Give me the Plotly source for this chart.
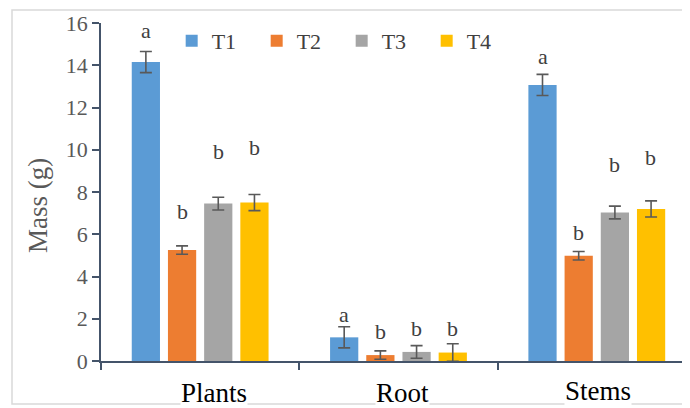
import plotly.graph_objects as go

categories = ["Plants", "Root", "Stems"]
series_names = ["T1", "T2", "T3", "T4"]
colors = ["#5B9BD5", "#ED7D31", "#A5A5A5", "#FFC000"]

t1_values = [14.15, 1.12, 13.07]
t2_values = [5.25, 0.28, 4.98]
t3_values = [7.45, 0.43, 7.03]
t4_values = [7.5, 0.40, 7.2]

t1_err = [0.5, 0.5, 0.5]
t2_err = [0.2, 0.2, 0.2]
t3_err = [0.3, 0.3, 0.3]
t4_err = [0.38, 0.42, 0.38]

t1_letters = ["a", "a", "a"]
t2_letters = ["b", "b", "b"]
t3_letters = ["b", "b", "b"]
t4_letters = ["b", "b", "b"]

t1_letter_y = [15.65, 2.2, 14.4]
t2_letter_y = [7.1, 1.42, 6.1]
t3_letter_y = [9.9, 1.56, 9.3]
t4_letter_y = [10.1, 1.56, 9.65]

y_tick_vals = [0, 2, 4, 6, 8, 10, 12, 14, 16]
y_title = "Mass (g)"

values = [t1_values, t2_values, t3_values, t4_values]
errors = [t1_err, t2_err, t3_err, t4_err]
letters = [t1_letters, t2_letters, t3_letters, t4_letters]
letter_y = [t1_letter_y, t2_letter_y, t3_letter_y, t4_letter_y]

FONT = "Liberation Serif, Times New Roman, serif"
AXIS_COLOR = "#44546A"
TEXT_COLOR = "#404040"

# page has an 8px body margin, so the figure is drawn 8px smaller
PAGE_OFF = 8
W, H = 690 - PAGE_OFF, 408 - PAGE_OFF
ML, MT = 101 - PAGE_OFF, 23 - PAGE_OFF
PLOT_W, PLOT_H = W - ML, 338
MB = H - MT - PLOT_H


def px_x(x):
    return (x - PAGE_OFF - ML) / PLOT_W


def px_y(y):
    return (MT + PLOT_H - (y - PAGE_OFF)) / PLOT_H


fig = go.Figure()
for name, col, vals, errs in zip(series_names, colors, values, errors):
    fig.add_trace(go.Bar(
        name=name, x=categories, y=vals, marker_color=col,
        marker_line_width=0,
        error_y=dict(type="data", array=errs, visible=True,
                     color="#595959", thickness=1.6, width=6),
    ))

offsets = [-54, -18, 18, 54]
annotations = []
for si in range(4):
    for ci, cat in enumerate(categories):
        annotations.append(dict(
            x=cat, y=letter_y[si][ci], xref="x", yref="y",
            text=letters[si][ci], showarrow=False, xshift=offsets[si],
            yanchor="middle", font=dict(family=FONT, size=22, color=TEXT_COLOR),
        ))

label_y_px = [392.5, 393, 390.5]  # centre rows of category labels
label_dx = [14, 4, 1]
for cat, ypx, dx in zip(categories, label_y_px, label_dx):
    annotations.append(dict(
        x=cat, y=px_y(ypx), xref="x", yref="paper", xshift=dx,
        text=cat, showarrow=False, yanchor="middle",
        font=dict(family=FONT, size=27, color="#000000"),
        bgcolor="white", borderpad=0,
    ))

annotations.append(dict(
    x=px_x(38), y=px_y(206), xref="paper", yref="paper",
    text=y_title, textangle=-90, showarrow=False,
    xanchor="center", yanchor="middle",
    font=dict(family=FONT, size=27, color="#595959"),
))

fig.update_layout(
    width=W, height=H,
    margin=dict(l=ML, r=0, t=MT, b=MB, autoexpand=False),
    paper_bgcolor="white", plot_bgcolor="white",
    barmode="group", bargap=0.27, bargroupgap=0.22,
    font=dict(family=FONT, color=TEXT_COLOR),
    showlegend=True,
    legend=dict(orientation="h", x=0.12, xanchor="left", y=px_y(41), yanchor="middle",
                font=dict(family=FONT, size=22, color=TEXT_COLOR),
                entrywidth=40, entrywidthmode="pixels", itemwidth=30,
                bgcolor="rgba(0,0,0,0)"),
    annotations=annotations,
    shapes=[dict(type="rect", xref="paper", yref="paper",
                 x0=px_x(12), x1=1.2, y0=px_y(404), y1=px_y(10),
                 line=dict(color="#D9D9D9", width=1.5), fillcolor="rgba(0,0,0,0)",
                 layer="below")],
)

fig.update_xaxes(
    range=[-0.5, 2.47], showticklabels=False,
    showline=True, linecolor=AXIS_COLOR, linewidth=1.5,
    ticks="outside", tickson="boundaries", ticklen=7, tickcolor=AXIS_COLOR, tickwidth=1.5,
    showgrid=False, zeroline=False,
)
fig.update_yaxes(
    range=[0, 16], tickvals=y_tick_vals,
    showline=True, linecolor=AXIS_COLOR, linewidth=1.5,
    ticks="outside", ticklen=7, tickcolor=AXIS_COLOR, tickwidth=1.5,
    showgrid=False, zeroline=False,
    tickfont=dict(family=FONT, size=22, color="#595959"),
)

fig.write_html("out.html")
